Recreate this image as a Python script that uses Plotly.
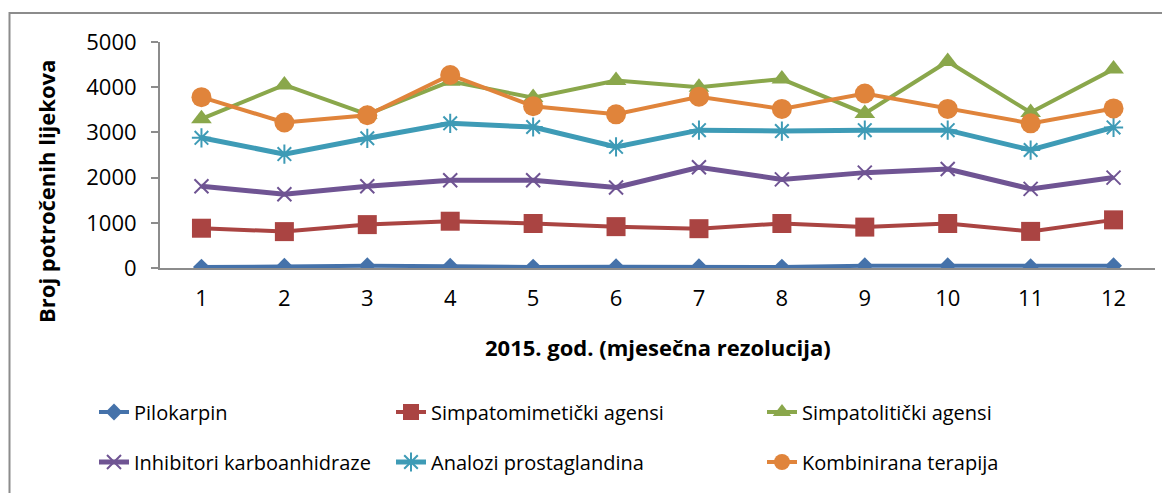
import plotly.graph_objects as go

months = list(range(1, 13))
tick_labels = [str(m) for m in months]

pilokarpin = [20, 40, 50, 40, 20, 30, 30, 20, 50, 50, 30, 50]
simpatomimeticki = [880, 805, 960, 1035, 985, 915, 870, 985, 905, 985, 810, 1065]
simpatoliticki = [3300, 4050, 3400, 4130, 3770, 4150, 4000, 4180, 3420, 4570, 3440, 4400]
inhibitori = [1810, 1630, 1810, 1940, 1940, 1780, 2230, 1960, 2110, 2190, 1750, 2000]
analozi = [2880, 2520, 2870, 3200, 3120, 2680, 3050, 3030, 3050, 3050, 2610, 3110]
kombinirana = [3780, 3220, 3380, 4270, 3580, 3400, 3790, 3520, 3860, 3520, 3200, 3530]

names = ["Pilokarpin", "Simpatomimetički agensi", "Simpatolitički agensi",
         "Inhibitori karboanhidraze", "Analozi prostaglandina", "Kombinirana terapija"]
series = [pilokarpin, simpatomimeticki, simpatoliticki, inhibitori, analozi, kombinirana]
colors = ["#4572AA", "#AA4442", "#8AA74B", "#6F5493", "#3E9BB6", "#E0843B"]
symbols = ["diamond", "square", "triangle-up", "x-thin", "asterisk", "circle"]
sizes = [13, 19, 18, 14, 16, 20]
widths = [4, 4, 4, 5, 5, 4]
legends = ["legend", "legend2", "legend3", "legend", "legend2", "legend3"]

FONT = "Open Sans, Liberation Sans, sans-serif"

fig = go.Figure()
for name, vals, col, sym, sz, w, lg in zip(names, series, colors, symbols, sizes, widths, legends):
    thin = sym in ("x-thin", "asterisk")
    fig.add_trace(go.Scatter(
        x=months, y=vals, name=name, mode="lines+markers",
        line=dict(color=col, width=w),
        marker=dict(symbol=sym, size=sz, color=col,
                    line=dict(color=col, width=2 if thin else 0)),
        legend=lg, legendgroup=name,
    ))

# page has an 8px body margin; figure sized so the plot area lands on page pixels
OFF = 8
W, H = 1170 - OFF, 493 - OFF
L, R, T = 160 - OFF, 15, 42 - OFF
B = H - (268 - OFF)
pw, ph = W - L - R, H - T - B

def px(x):  # page pixel -> paper x
    return (x - OFF - L) / pw

def py(y):  # page pixel -> paper y
    return (268 - y) / ph

leg_common = dict(orientation="v", yanchor="middle", xanchor="left",
                  font=dict(family=FONT, size=20, color="#000000"),
                  tracegroupgap=21, bgcolor="rgba(0,0,0,0)", itemwidth=30)

fig.update_layout(
    width=W, height=H,
    margin=dict(l=L, r=R, t=T, b=B),
    paper_bgcolor="white", plot_bgcolor="white",
    font=dict(family=FONT, size=20, color="#000000"),
    showlegend=True,
    legend=dict(x=px(94), y=py(437), **leg_common),
    legend2=dict(x=px(391), y=py(437), **leg_common),
    legend3=dict(x=px(762), y=py(437), **leg_common),
    xaxis=dict(range=[0.5, 12.5], tickmode="array", tickvals=months, ticktext=tick_labels,
               showgrid=False, zeroline=False, showline=True, linecolor="#8C8C8C", linewidth=2,
               ticks="", ticklabelstandoff=10,
               tickfont=dict(family=FONT, size=22, color="#000000")),
    yaxis=dict(range=[0, 5000], tickmode="array", tickvals=[0, 1000, 2000, 3000, 4000, 5000],
               showgrid=False, zeroline=False, showline=True, linecolor="#8C8C8C", linewidth=2,
               ticks="outside", ticklen=7, tickcolor="#8C8C8C", tickwidth=2,
               ticklabelstandoff=10,
               tickfont=dict(family=FONT, size=22, color="#000000")),
    annotations=[
        dict(text="<b>2015. god. (mjesečna rezolucija)</b>", xref="paper", yref="paper",
             x=px(657.5), y=py(347), xanchor="center", yanchor="middle", showarrow=False,
             font=dict(family=FONT, size=22, color="#000000")),
        dict(text="<b>Broj potročenih lijekova</b>", xref="paper", yref="paper",
             x=px(46), y=py(192), xanchor="center", yanchor="middle", showarrow=False,
             textangle=-90, font=dict(family=FONT, size=22, color="#000000")),
    ],
    shapes=[dict(type="rect", xref="paper", yref="paper",
                 x0=px(9.5), x1=px(1190), y0=py(520), y1=py(13),
                 line=dict(color="#8C8C8C", width=2), layer="below")],
)

fig.write_html("out.html")
